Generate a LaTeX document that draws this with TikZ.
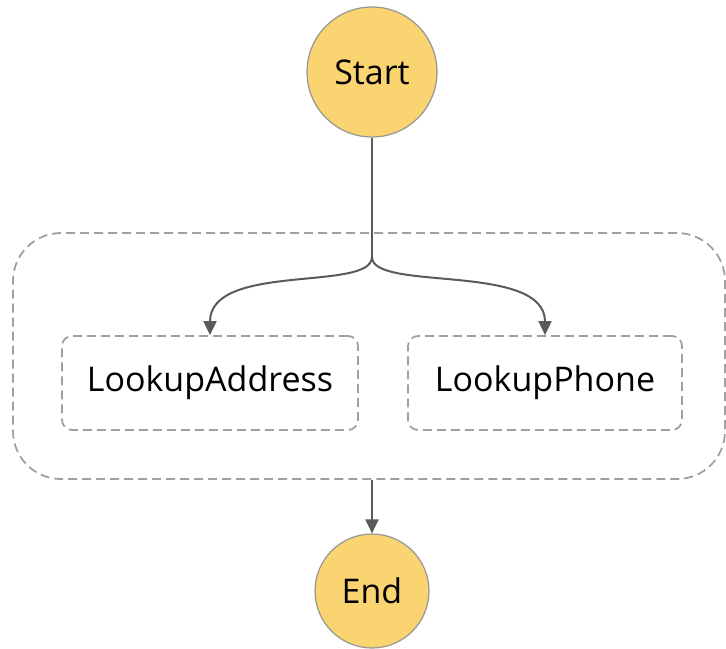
\documentclass[tikz,border=0pt]{standalone}
\usepackage{fontspec}
\setmainfont{Open Sans}
\usetikzlibrary{arrows.meta}
\definecolor{stateyellow}{RGB}{249,212,112}
\definecolor{stateedge}{RGB}{150,150,150}
\definecolor{dashgray}{RGB}{160,160,160}
\definecolor{arrowgray}{RGB}{90,90,90}
\begin{document}
\begin{tikzpicture}[
      x=0.5pt, y=-0.5pt,
      terminal/.style={draw=stateedge, line width=0.6pt, circle, fill=stateyellow, inner sep=0pt, font=\fontsize{17}{20}\selectfont},
      task/.style={draw=dashgray, line width=0.9pt, dash pattern=on 4.5pt off 2.5pt, rounded corners=5pt, minimum height=47pt, font=\fontsize{17}{20}\selectfont},
      parallel/.style={draw=dashgray, line width=0.9pt, dash pattern=on 4.5pt off 2.5pt, rounded corners=24pt, minimum width=356pt, minimum height=123pt},
      flow/.style={draw=arrowgray, line width=1pt, -{Triangle[length=7pt,width=6.5pt]}},]
      \useasboundingbox (0,0) rectangle (726,648);
      \node[parallel] (par) at (369,356) {};
      \node[terminal, minimum size=65pt] (start) at (372,72) {Start};
      \node[terminal, minimum size=57pt] (end) at (372,591) {End};
      \node[task, minimum width=148pt] (addr) at (210,383) {LookupAddress};
      \node[task, minimum width=137pt] (phone) at (545,383) {LookupPhone};
      \coordinate (split) at (372,257);
      % branches
      \draw[draw=arrowgray, line width=1pt] (start.south) -- (split);
      \draw[flow] (split) .. controls (372,292) and (210,262) .. (addr.north);
      \draw[flow] (split) .. controls (372,292) and (545,262) .. (phone.north);
      \draw[flow] (end |- par.south) -- (end.north);
    \end{tikzpicture}
\end{document}
